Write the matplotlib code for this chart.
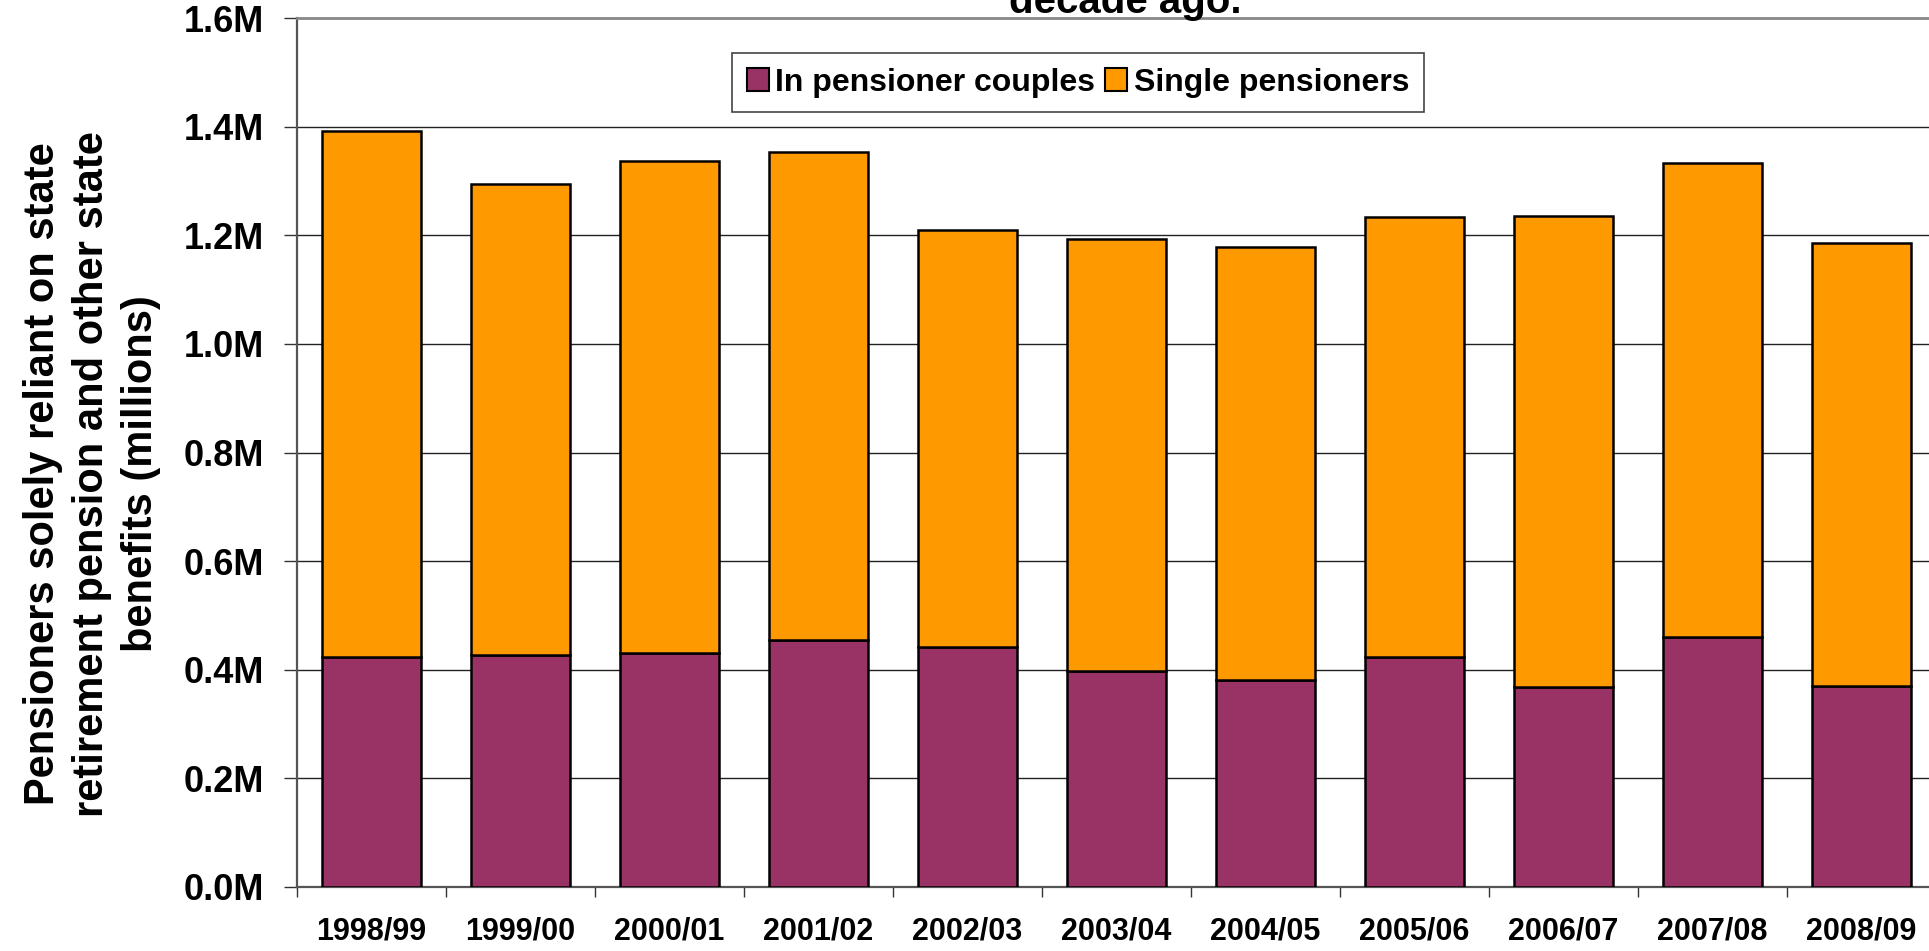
import numpy as np
import matplotlib
matplotlib.use('Agg')
import matplotlib.pyplot as plt
from matplotlib.patches import Patch

plt.rcParams['font.family'] = ['Liberation Sans', 'DejaVu Sans']
plt.rcParams['font.weight'] = 'bold'

years = ['1998/99', '1999/00', '2000/01', '2001/02', '2002/03', '2003/04',
         '2004/05', '2005/06', '2006/07', '2007/08', '2008/09']
couples = [0.424, 0.428, 0.431, 0.455, 0.441, 0.398, 0.381, 0.424, 0.369, 0.460, 0.370]
singles = [0.968, 0.866, 0.905, 0.899, 0.769, 0.795, 0.797, 0.810, 0.867, 0.873, 0.815]
yticks = [0.0, 0.2, 0.4, 0.6, 0.8, 1.0, 1.2, 1.4, 1.6]

COUPLE_COLOR = '#993366'
SINGLE_COLOR = '#FF9900'

W, H = 1929, 951
fig = plt.figure(figsize=(W / 100, H / 100), dpi=100)
# the plot area runs slightly past the right edge of the picture
ax = fig.add_axes([297 / W, 64 / H, (1936 - 297) / W, (887 - 18) / H])

x = np.arange(len(years))
width = 0.66
ax.bar(x, couples, width, color=COUPLE_COLOR, edgecolor='black', linewidth=1.8,
       label='In pensioner couples', zorder=3)
ax.bar(x, singles, width, bottom=couples, color=SINGLE_COLOR, edgecolor='black',
       linewidth=1.8, label='Single pensioners', zorder=3)

ax.set_xlim(-0.5, len(years) - 0.5)
ax.set_ylim(0, 1.6)

# y axis
ax.set_yticks(yticks)
ax.set_yticklabels(['%.1fM' % v for v in yticks], fontsize=26, fontweight='bold')
ax.tick_params(axis='y', direction='out', length=9.5, width=1, color='#333333', pad=14)
for v in yticks[1:-1]:
    ax.axhline(v, color='#222222', linewidth=1, zorder=1)

# x axis: labels at centres, tick marks at boundaries
ax.set_xticks(x)
ax.set_xticklabels(years, fontsize=22, fontweight='bold')
ax.tick_params(axis='x', which='major', length=0, pad=21)
ax.set_xticks(np.arange(-0.5, len(years)), minor=True)
ax.tick_params(axis='x', which='minor', direction='out', length=7, width=1, color='#333333')

for side in ['left', 'bottom']:
    ax.spines[side].set_color('#555555')
    ax.spines[side].set_linewidth(1.6)
ax.spines['top'].set_color('#888888')
ax.spines['top'].set_linewidth(2)
ax.spines['right'].set_visible(False)

# legend
handles = [Patch(facecolor=COUPLE_COLOR, edgecolor='black', linewidth=1.5),
           Patch(facecolor=SINGLE_COLOR, edgecolor='black', linewidth=1.5)]
leg = fig.legend(handles, ['In pensioner couples', 'Single pensioners'],
                 loc='center', bbox_to_anchor=(1078 / W, 1 - 82.5 / H), ncol=2,
                 prop={'weight': 'bold', 'size': 23}, frameon=True,
                 fancybox=False, framealpha=1, edgecolor='#444444',
                 handlelength=0.7, handleheight=0.7, handletextpad=0.2,
                 columnspacing=0.3, borderpad=0.45)
leg.get_frame().set_linewidth(1.2)

# y label
fig.text(92 / W, 1 - 474 / H,
         'Pensioners solely reliant on state\nretirement pension and other state\nbenefits (millions)',
         rotation=90, ha='center', va='center', fontsize=30, fontweight='bold',
         linespacing=1.3, multialignment='center')

# title (cut off at the top of the image)
fig.text(1125 / W, 1 - 12.7 / H, 'decade ago.', ha='center', va='baseline',
         fontsize=29, fontweight='bold')

fig.savefig('out.png', dpi=100, facecolor='white')
